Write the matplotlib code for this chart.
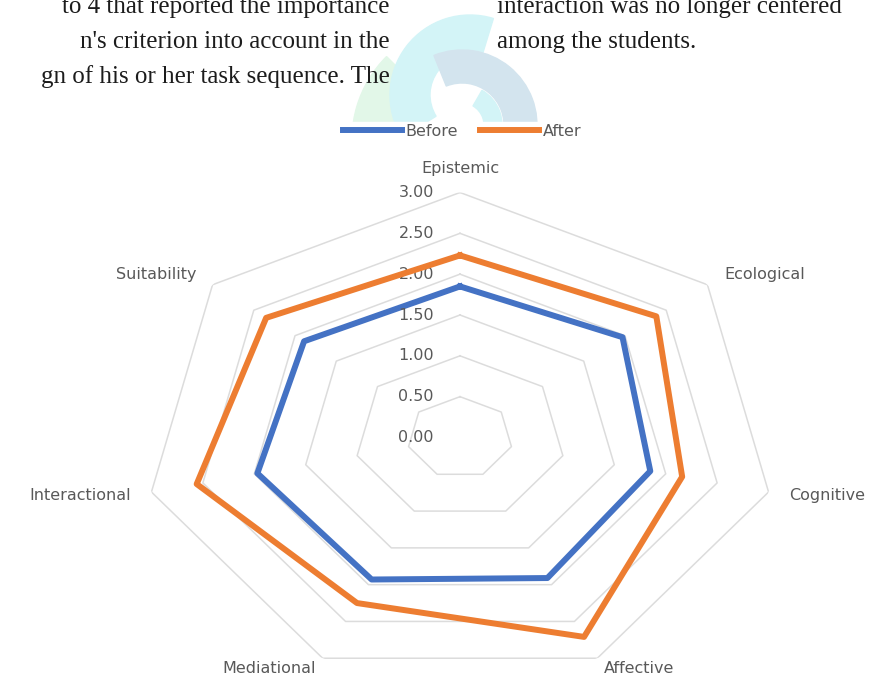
import numpy as np
import matplotlib.pyplot as plt
from matplotlib.patches import Wedge, Rectangle

# data
categories = ["Epistemic", "Ecological", "Cognitive", "Affective",
              "Mediational", "Interactional", "Suitability"]
before = [1.85, 1.97, 1.85, 1.91, 1.93, 1.97, 1.89]
after = [2.23, 2.38, 2.16, 2.71, 2.25, 2.56, 2.35]
tick_labels = ["0.00", "0.50", "1.00", "1.50", "2.00", "2.50", "3.00"]

# bits of the page text around the figure
left_lines = ["to 4 that reported the importance",
              "n's criterion into account in the",
              "gn of his or her task sequence. The"]
right_lines = ["interaction was no longer centered",
               "among the students."]

W, H = 878, 677
fig = plt.figure(figsize=(W / 100, H / 100), dpi=100)

# page background with the faint logo watermark
bg = fig.add_axes([0, 0, 1, 1])
bg.set_xlim(0, W)
bg.set_ylim(0, H)
bg.axis('off')
bg.add_patch(Wedge((470, H - 140), 118, 135, 192, width=45, color='#e2f7e8', zorder=1))
bg.add_patch(Wedge((470, H - 95), 80, 73, 212, width=40, color='#d3f4f7', zorder=2))
bg.add_patch(Wedge((462, H - 125), 75, -10, 112, width=33, color='#d3e4ee', zorder=3))
bg.add_patch(Wedge((462, H - 125), 40, -20, 60, width=18, color='#d3f4f7', zorder=3))
bg.add_patch(Rectangle((0, 0), W, H - 122, color='white', zorder=4))

for i, line in enumerate(left_lines):
    bg.text(390, H - (13 + 35 * i), line, ha='right', va='baseline',
            family='Liberation Serif', fontsize=18, color='#1c1c1c', zorder=5)
for i, line in enumerate(right_lines):
    bg.text(497, H - (13 + 35 * i), line, ha='left', va='baseline',
            family='Liberation Serif', fontsize=18, color='#1c1c1c', zorder=5)

# radar chart (stretched horizontally like the source image)
cx, cy, rx, ry = 460, 437.5, 316.5, 245
ax = fig.add_axes([(cx - rx) / W, (H - cy - ry) / H, 2 * rx / W, 2 * ry / H],
                  projection='polar')
ax.set_aspect('auto')
ax.set_theta_offset(np.pi / 2)
ax.set_theta_direction(-1)
ax.set_ylim(0, 3)
ax.grid(False)
ax.set_xticks([])
ax.set_yticks([])
ax.spines['polar'].set_visible(False)
ax.patch.set_alpha(0)

n = len(categories)
theta = np.linspace(0, 2 * np.pi, n + 1)

for lbl in tick_labels[1:]:
    ax.plot(theta, [float(lbl)] * (n + 1), color='#dcdcdc', lw=1.1, zorder=1)

ax.plot(theta, before + before[:1], color='#4472C4', lw=4.3, label='Before', zorder=3)
ax.plot(theta, after + after[:1], color='#ED7D31', lw=4.3, label='After', zorder=4)

txt_color = '#595959'
for lbl in tick_labels:
    ax.annotate(lbl, xy=(0, float(lbl)), xytext=(-26, 0), textcoords='offset pixels',
                ha='right', va='center', fontsize=11.5, color=txt_color)

for i, cat in enumerate(categories):
    th = theta[i]
    s = np.sin(th)
    ha = 'center' if abs(s) < 0.1 else ('left' if s > 0 else 'right')
    va = 'bottom' if i == 0 else 'center'
    r = 3.14 if np.cos(th) < -0.8 else 3.2
    ax.text(th, r, cat, ha=ha, va=va, fontsize=11.5, color=txt_color)

fig.legend(loc='center', bbox_to_anchor=(462 / W, 1 - 131 / H), ncol=2,
           frameon=False, handlelength=3.7, handletextpad=0.2, columnspacing=1.4,
           fontsize=11.5, labelcolor=txt_color)

fig.savefig('out.png', dpi=100)
